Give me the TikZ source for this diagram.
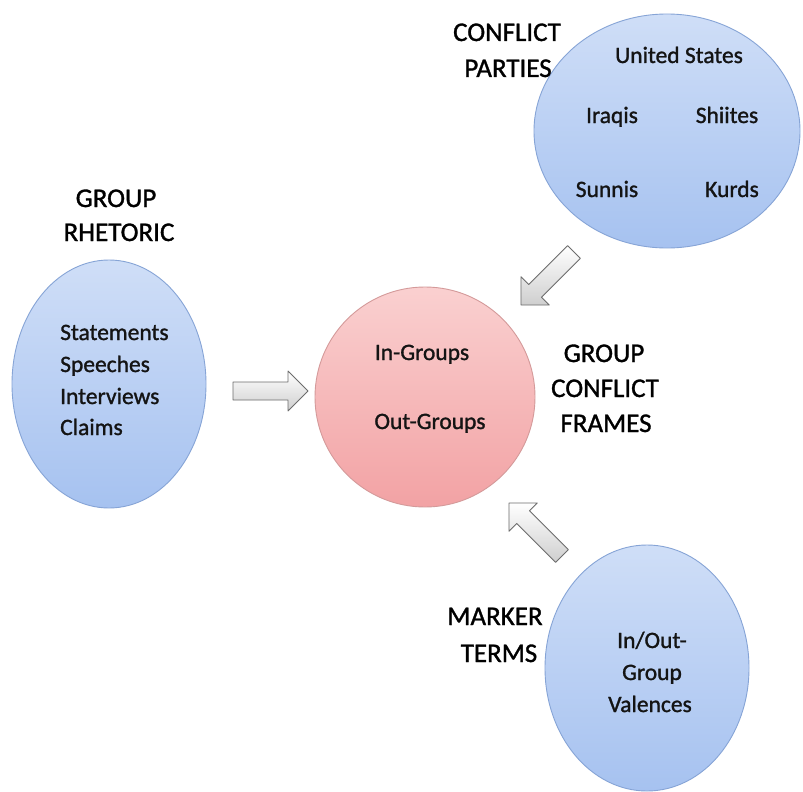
\documentclass[tikz,border=0pt]{standalone}
\usepackage{fontspec}
\setmainfont{Carlito}
\newfontfamily\semib{Carlito}[FakeBold=1.2]
\definecolor{blueTop}{HTML}{CFDEF7}
\definecolor{blueBot}{HTML}{A6C2F0}
\definecolor{blueLine}{HTML}{86A4D6}
\definecolor{pinkTop}{HTML}{FAD0D0}
\definecolor{pinkBot}{HTML}{F2A2A4}
\definecolor{pinkLine}{HTML}{D49A9A}
\definecolor{txt}{HTML}{141414}
\begin{document}
\begin{tikzpicture}[x=1pt,y=-1pt,
  blueell/.style={draw=blueLine,line width=0.9pt,top color=blueTop,bottom color=blueBot},
  pinkell/.style={draw=pinkLine,line width=0.9pt,top color=pinkTop,bottom color=pinkBot},
  inner/.style={font=\semib\fontsize{23.5}{28}\selectfont,text=txt,inner sep=0pt,anchor=base},
  head/.style={font=\semib\fontsize{27}{32}\selectfont,text=black,inner sep=0pt,anchor=base},
  arrowbody/.style={draw=gray!85!black,line width=0.8pt,top color=white,bottom color=gray!38,line join=round},
  blockarrow/.pic={\draw[arrowbody] (0pt,-9pt) -- (55pt,-9pt) -- (55pt,-20pt) -- (75pt,0pt) -- (55pt,20pt) -- (55pt,9pt) -- (0pt,9pt) -- cycle;}
]
\useasboundingbox (0,0) rectangle (803,792);
\fill[white] (0,0) rectangle (803,792);

% ellipses
\path[blueell] (109,384) ellipse [x radius=97, y radius=124];
\path[pinkell] (425,397) ellipse [x radius=110, y radius=110];
\path[blueell] (667,131) ellipse [x radius=133, y radius=117];
\path[blueell] (647,668) ellipse [x radius=102, y radius=123];

\coordinate (rhet) at (109,384);
\coordinate (frames) at (425,397);
\coordinate (parties) at (667,131);
\coordinate (marker) at (647,668);

% block arrows
\pic (arrL) at (233,391) {blockarrow};
\pic (arrT) [rotate=225] at (574,252) {blockarrow};
\pic (arrB) [rotate=135] at (562,556) {blockarrow};

% left ellipse
\node[head] (gr1) at (116,207) {GROUP};
\node[head] (gr2) at (119,241) {RHETORIC};
\node[inner,anchor=base west] (s1) at (60,340) {Statements};
\node[inner,anchor=base west] (s2) at (60,372) {Speeches};
\node[inner,anchor=base west] (s3) at (60,404) {Interviews};
\node[inner,anchor=base west] (s4) at (60,435) {Claims};

% central
\node[inner] (in) at (422,360) {In-Groups};
\node[inner] (out) at (430,429) {Out-Groups};
\node[head] (gcf1) at (604,362) {GROUP};
\node[head] (gcf2) at (605,397) {CONFLICT};
\node[head] (gcf3) at (606,432) {FRAMES};

% top right
\node[head] (cp1) at (507,41) {CONFLICT};
\node[head] (cp2) at (508,77) {PARTIES};
\node[inner] (us) at (679,63) {United States};
\node[inner] (iq) at (612,123) {Iraqis};
\node[inner] (sh) at (727,123) {Shiites};
\node[inner] (su) at (607,197) {Sunnis};
\node[inner] (ku) at (732,197) {Kurds};

% bottom right
\node[head] (mt1) at (495,625) {MARKER};
\node[head] (mt2) at (499,662) {TERMS};
\node[inner] (v1) at (652,648) {In/Out-};
\node[inner] (v2) at (652,680) {Group};
\node[inner] (v3) at (650,712) {Valences};
\end{tikzpicture}
\end{document}
